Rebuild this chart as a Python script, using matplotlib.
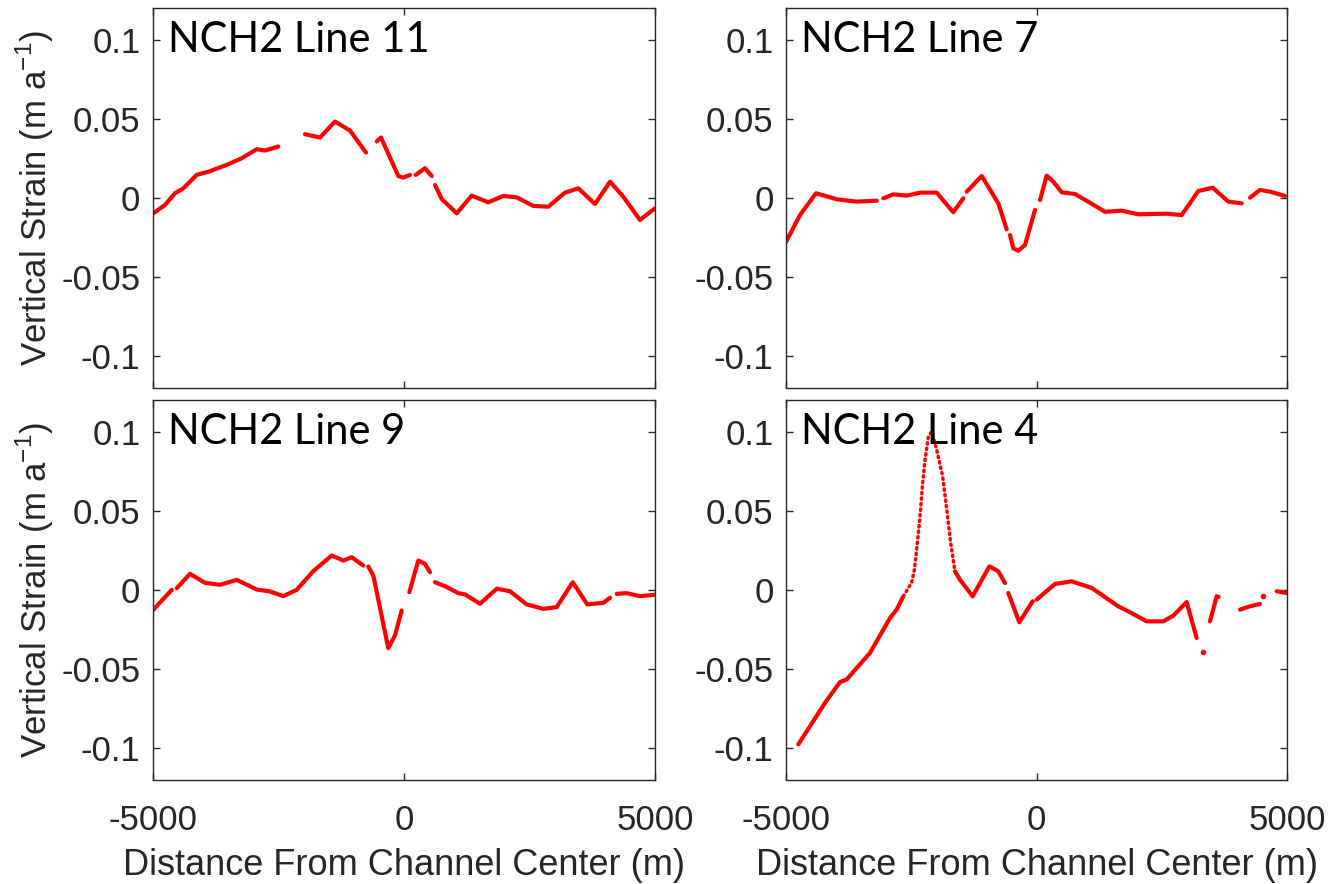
import numpy as np
import matplotlib
matplotlib.use('Agg')
import matplotlib.pyplot as plt

plt.rcParams['font.family'] = ['Liberation Sans', 'DejaVu Sans']
plt.rcParams['axes.unicode_minus'] = False
plt.rcParams['mathtext.fontset'] = 'custom'
plt.rcParams['mathtext.rm'] = 'Liberation Sans'

nan = np.nan

# NCH2 Line 11 (gaps as nan)
x11 = [-4994, -4761, -4562, -4396, -4130, -3898, -3532, -3233, -2934, -2769, -2504, nan,
       -1972, -1673, -1375, -1076, -757, nan, -544, -458, -114, -14, 120, nan,
       233, 418, 552, nan, 618, 751, 1050, 1349, 1680, 1979, 2245, 2576, 2875, 3207,
       3473, 3805, 4104, 4369, 4701, 5000]
y11 = [-0.0097, -0.0044, 0.003, 0.0061, 0.0146, 0.0166, 0.0209, 0.0251, 0.0308, 0.030, 0.0325, nan,
       0.0403, 0.0382, 0.0483, 0.0426, 0.0287, nan, 0.0357, 0.0382, 0.0139, 0.0129, 0.0146, nan,
       0.0146, 0.0188, 0.0139, nan, 0.0082, -0.0006, -0.0097, 0.0015, -0.0027, 0.0013, 0.0004, -0.005,
       -0.0055, 0.0034, 0.0061, -0.0038, 0.0103, 0.0008, -0.0139, -0.0065]

# NCH2 Line 7
x7 = [-5000, -4721, -4401, -3988, -3589, -3190, nan, -3057, -2858, -2591, -2325, -1992, -1661, -1461, nan,
      -1393, -1094, -762, -595, nan, -529, -462, -363, -230, -30, nan,
      70, 203, 336, 503, 769, 1068, 1367, 1701, 2033, 2599, 2898, 3230, 3517, 3829, 4096, nan,
      4261, 4461, 4661, 4960]
y7 = [-0.0277, -0.0108, 0.003, -0.0008, -0.0023, -0.0017, nan, -0.0002, 0.0023, 0.0015, 0.0034, 0.0034, -0.009, -0.0002, nan,
      0.004, 0.0139, -0.0034, -0.0198, nan, -0.0234, -0.0318, -0.0333, -0.0297, -0.0076, nan,
      -0.0013, 0.0141, 0.0103, 0.0036, 0.0025, -0.003, -0.0087, -0.008, -0.0103, -0.0099, -0.0108, 0.0044, 0.0065,
      -0.0023, -0.0034, nan, 0.0002, 0.0051, 0.004, 0.0013]

# NCH2 Line 9
x9 = [-4994, -4627, nan, -4528, -4263, -3964, -3665, -3333, -2934, -2669, -2404, -2137, -1807, -1440,
      -1209, -1042, -811, nan, -711, -611, -313, -179, -46, nan, 20, nan,
      106, 285, 418, 518, nan, 618, 817, 1082, 1215, 1514, 1847, 2112, 2444, 2775, 3042, 3361, 3651,
      3970, 4104, nan, 4237, 4436, 4701, 5000]
y9 = [-0.0125, 0.0001, nan, 0.0011, 0.0102, 0.0045, 0.0033, 0.0064, 0.0003, -0.0009, -0.0039, 0.0001, 0.0119, 0.0218,
      0.0186, 0.0207, 0.0154, nan, 0.0148, 0.0091, -0.0367, -0.0287, -0.0129, nan, -0.0055, nan,
      -0.0014, 0.0186, 0.0165, 0.0112, nan, 0.0049, 0.0024, -0.002, -0.0028, -0.0087, 0.0008, -0.0008, -0.0091,
      -0.0119, -0.0108, 0.0049, -0.0091, -0.0081, -0.0049, nan, -0.0024, -0.002, -0.0039, -0.003]

# NCH2 Line 4 (solid parts)
x4 = [-4754, -4222, -3922, -3789, -3323, -2924, -2791, -2658, nan,
      -1627, -1527, -1274, -942, -762, -629, nan, -562, -343, -76, nan,
      3, 369, 702, 1101, 1633, 1833, 2199, 2532, 2731, 2997, 3197, nan,
      3383, nan, 3463, 3596, 3636, nan, 4062, 4261, 4461, nan, 4794, 4993]
y4 = [-0.0975, -0.0713, -0.0582, -0.0565, -0.0397, -0.0177, -0.0124, -0.004, nan,
      0.0118, 0.0065, -0.004, 0.0149, 0.0118, 0.0044, nan, -0.0019, -0.0204, -0.0071, nan,
      -0.0061, 0.0038, 0.0055, 0.0013, -0.0103, -0.0135, -0.0198, -0.0198, -0.0162, -0.0076, -0.0303, nan,
      -0.0296, nan, -0.0198, -0.004, -0.0044, nan, -0.0124, -0.0103, -0.0088, nan, -0.0008, -0.0019]
# NCH2 Line 4 sparse peak section
x4p = [-2658, -2491, -2438, -2392, -2325, -2272, -2225, -2158, -2092, -1992, -1872, -1792, -1712, -1627]
y4p = [-0.004, 0.0048, 0.0128, 0.0254, 0.0465, 0.0675, 0.0822, 0.0969, 0.1, 0.0885, 0.0717, 0.0507, 0.0296, 0.0118]
x4d = [3317, 4528]
y4d = [-0.0393, -0.004]

titles = ['NCH2 Line 11', 'NCH2 Line 7', 'NCH2 Line 9', 'NCH2 Line 4']
yticks = [-0.1, -0.05, 0, 0.05, 0.1]
ytlabels = ['-0.1', '-0.05', '0', '0.05', '0.1']
xticks = [-5000, 0, 5000]
xtlabels = ['-5000', '0', '5000']

W, H = 1341, 884
fig = plt.figure(figsize=(W / 100, H / 100), dpi=100)
boxes = [(153, 8, 655, 388), (786, 8, 1287, 388), (153, 400, 655, 780), (786, 400, 1287, 780)]
axes = []
for (l, t, r, b) in boxes:
    axes.append(fig.add_axes([l / W, 1 - b / H, (r - l) / W, (b - t) / H]))

series = [(x11, y11), (x7, y7), (x9, y9), (x4, y4)]
red = '#ff0000'
dark = '#262626'
for i, ax in enumerate(axes):
    xs, ys = series[i]
    ax.plot(xs, ys, color=red, lw=3, solid_capstyle='round')
    if i == 3:
        ax.plot(x4p, y4p, color=red, lw=2.5, ls=(0, (0.4, 1.2)), dash_capstyle='round')
        ax.plot(x4d, y4d, 'o', color=red, ms=3)
    ax.set_xlim(-5000, 5000)
    ax.set_ylim(-0.12, 0.12)
    ax.set_yticks(yticks)
    ax.set_yticklabels(ytlabels)
    ax.set_xticks(xticks)
    if i >= 2:
        ax.set_xticklabels(xtlabels)
        ax.set_xlabel('Distance From Channel Center (m)', fontsize=26, color=dark, labelpad=8)
    else:
        ax.set_xticklabels([])
    if i % 2 == 0:
        ax.set_ylabel(r'Vertical Strain (m a$^{\mathregular{-1}}$)', fontsize=25, color=dark, labelpad=4)
    ax.tick_params(direction='in', top=True, right=True, length=5, width=1,
                   labelsize=25, colors=dark, pad=9)
    ax.tick_params(axis='x', pad=17)
    for s in ax.spines.values():
        s.set_color(dark)
        s.set_linewidth(1)
    ax.text(0.03, 0.965, titles[i], transform=ax.transAxes, ha='left', va='top',
            fontsize=30, family=['Lato', 'DejaVu Sans'], color='black')

fig.savefig('out.png', dpi=100)
